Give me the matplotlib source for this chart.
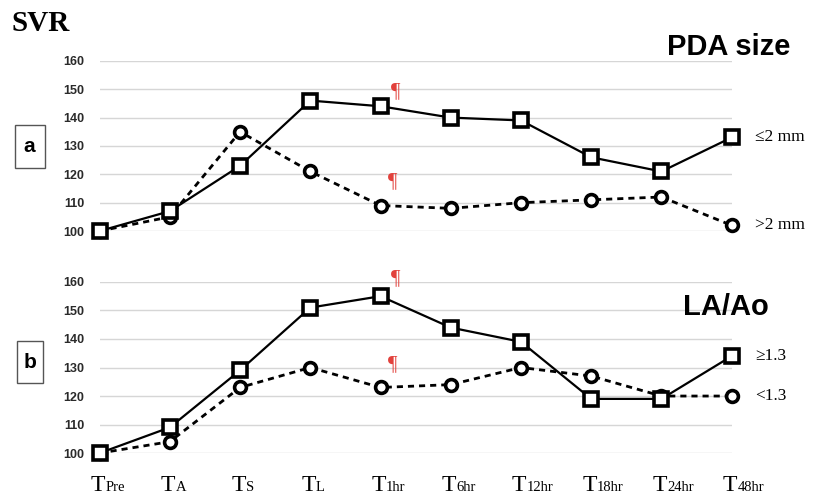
import matplotlib
matplotlib.use("Agg")
import matplotlib.pyplot as plt
from matplotlib.patches import Rectangle

# ── Data ──────────────────────────────────────────────────────────────────────
timepoints = ["Pre", "A", "S", "L", "1hr", "6hr", "12hr", "18hr", "24hr", "48hr"]
yticks = [100, 110, 120, 130, 140, 150, 160]

pda_small = [100, 107, 123, 146, 144, 140, 139, 126, 121, 133]   # <=2 mm
pda_large = [100, 105, 135, 121, 109, 108, 110, 111, 112, 102]   # >2 mm
laao_high = [100, 109, 129, 151, 155, 144, 139, 119, 119, 134]   # >=1.3
laao_low  = [100, 104, 123, 130, 123, 124, 130, 127, 120, 120]   # <1.3

pda_labels  = ["\u22642 mm", ">2 mm"]
laao_labels = ["\u22651.3", "<1.3"]

GRID = "#d6d6d6"
RED  = "#e2413c"
SERIF = ["Liberation Serif", "DejaVu Serif"]
SANS  = ["Liberation Sans", "DejaVu Sans"]

fig = plt.figure(figsize=(8.13, 4.99), dpi=100, facecolor="white")
ax_a = fig.add_axes([0.1225, 0.537, 0.7775, 0.341])
ax_b = fig.add_axes([0.1225, 0.092, 0.7775, 0.343])

x = list(range(len(timepoints)))


def draw_panel(ax, solid, dashed, labels):
    ax.set_xlim(0, 9)
    ax.set_ylim(100, 160)
    ax.set_yticks(yticks)
    ax.set_yticklabels([str(v) for v in yticks], fontsize=9, family=SANS,
                       fontweight="bold", color="#2a2a2a")
    ax.tick_params(axis="y", length=0, pad=11)
    ax.tick_params(axis="x", length=0)
    ax.set_xticks([])
    for s in ax.spines.values():
        s.set_visible(False)
    for v in yticks:
        ax.axhline(v, color=GRID, lw=1.0, zorder=0)

    ax.plot(x, dashed, color="black", lw=2.0, ls=(0, (2.2, 1.8)),
            marker="o", ms=8.5, mfc="white", mec="black", mew=2.6,
            clip_on=False, zorder=3)
    ax.plot(x, solid, color="black", lw=1.6, ls="-",
            marker="s", ms=9.5, mfc="white", mec="black", mew=2.6,
            clip_on=False, zorder=4)

    ax.annotate(labels[0], xy=(x[-1], solid[-1]), xytext=(17, 0),
                textcoords="offset points", va="center", ha="left",
                fontsize=12.5, family=SERIF, annotation_clip=False)
    ax.annotate(labels[1], xy=(x[-1], dashed[-1]), xytext=(17, 0),
                textcoords="offset points", va="center", ha="left",
                fontsize=12.5, family=SERIF, annotation_clip=False)


draw_panel(ax_a, pda_small, pda_large, pda_labels)
draw_panel(ax_b, laao_high, laao_low, laao_labels)

# significance marks at T1hr
for ax, ys in ((ax_a, (149, 117.5)), (ax_b, (161, 131))):
    ax.text(4.22, ys[0], "\u00b6", color=RED, fontsize=15, family=SERIF,
            ha="center", va="center", clip_on=False)
    ax.text(4.17, ys[1], "\u00b6", color=RED, fontsize=15, family=SERIF,
            ha="center", va="center", clip_on=False)

# x labels: big T with smaller suffix
for xi, lab in zip(x, timepoints):
    ax_b.annotate("T", xy=(xi, 100), xytext=(4, -23), textcoords="offset points",
                  ha="right", va="center", fontsize=17, family=SERIF,
                  annotation_clip=False)
    ax_b.annotate(lab, xy=(xi, 100), xytext=(4, -25), textcoords="offset points",
                  ha="left", va="center", fontsize=10.5, family=SERIF,
                  annotation_clip=False)

# titles
fig.text(0.014, 0.952, "SVR", fontsize=21, fontweight="bold", family=SERIF,
         ha="left", va="center")
fig.text(0.972, 0.906, "PDA size", fontsize=21, fontweight="bold", family=SANS,
         ha="right", va="center")
fig.text(0.945, 0.384, "LA/Ao", fontsize=21, fontweight="bold", family=SANS,
         ha="right", va="center")

# panel letter boxes
for (bx, by, bw, bh), letter in (((0.018, 0.663, 0.037, 0.086), "a"),
                                  ((0.021, 0.232, 0.032, 0.084), "b")):
    fig.add_artist(Rectangle((bx, by), bw, bh, transform=fig.transFigure,
                             fill=False, ec="#555555", lw=1.0))
    fig.text(bx + bw / 2, by + bh / 2, letter, fontsize=15, fontweight="bold",
             family=SANS, ha="center", va="center")

fig.savefig("out.png", dpi=100, facecolor="white")
